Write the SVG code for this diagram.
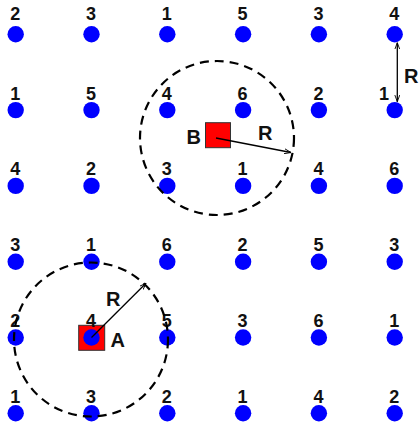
<svg xmlns="http://www.w3.org/2000/svg" width="419" height="428" viewBox="0 0 419 428">
<defs>
<style>
.dot{fill:#0000ff}
.num{font-family:"Liberation Sans",Arial,sans-serif;font-weight:bold;font-size:18px;fill:#111;text-anchor:middle}
.lbl{font-family:"Liberation Sans",Arial,sans-serif;font-weight:bold;font-size:20px;fill:#111}
.sq{fill:#ff0000;stroke:#333;stroke-width:1}
.rng{fill:none;stroke:#000;stroke-width:2.2;stroke-dasharray:9,6}
.arr{stroke:#000;stroke-width:1.3;fill:none}
</style>
<marker id="ah" viewBox="0 0 10 8" refX="9.5" refY="4" markerWidth="7" markerHeight="6" markerUnits="userSpaceOnUse" orient="auto-start-reverse">
<path d="M0,0.5 L9.5,4 L0,7.5" fill="none" stroke="#000" stroke-width="1.3"/>
</marker>
</defs>
<g id="squareA"><rect class="sq" x="78.7" y="325.3" width="26" height="25"/></g>
<g id="dots">
<g id="r0">
<circle class="dot" cx="15.7" cy="34.3" r="8.2"/><circle class="dot" cx="91.5" cy="34.3" r="8.2"/><circle class="dot" cx="167.3" cy="34.3" r="8.2"/><circle class="dot" cx="243.1" cy="34.3" r="8.2"/><circle class="dot" cx="318.9" cy="34.3" r="8.2"/><circle class="dot" cx="394.7" cy="34.3" r="8.2"/>
</g>
<g id="r1">
<circle class="dot" cx="15.7" cy="110.1" r="8.2"/><circle class="dot" cx="91.5" cy="110.1" r="8.2"/><circle class="dot" cx="167.3" cy="110.1" r="8.2"/><circle class="dot" cx="243.1" cy="110.1" r="8.2"/><circle class="dot" cx="318.9" cy="110.1" r="8.2"/><circle class="dot" cx="394.7" cy="110.1" r="8.2"/>
</g>
<g id="r2">
<circle class="dot" cx="15.7" cy="185.9" r="8.2"/><circle class="dot" cx="91.5" cy="185.9" r="8.2"/><circle class="dot" cx="167.3" cy="185.9" r="8.2"/><circle class="dot" cx="243.1" cy="185.9" r="8.2"/><circle class="dot" cx="318.9" cy="185.9" r="8.2"/><circle class="dot" cx="394.7" cy="185.9" r="8.2"/>
</g>
<g id="r3">
<circle class="dot" cx="15.7" cy="261.7" r="8.2"/><circle class="dot" cx="91.5" cy="261.7" r="8.2"/><circle class="dot" cx="167.3" cy="261.7" r="8.2"/><circle class="dot" cx="243.1" cy="261.7" r="8.2"/><circle class="dot" cx="318.9" cy="261.7" r="8.2"/><circle class="dot" cx="394.7" cy="261.7" r="8.2"/>
</g>
<g id="r4">
<circle class="dot" cx="15.7" cy="337.5" r="8.2"/><circle class="dot" cx="91.5" cy="337.5" r="8.2"/><circle class="dot" cx="167.3" cy="337.5" r="8.2"/><circle class="dot" cx="243.1" cy="337.5" r="8.2"/><circle class="dot" cx="318.9" cy="337.5" r="8.2"/><circle class="dot" cx="394.7" cy="337.5" r="8.2"/>
</g>
<g id="r5">
<circle class="dot" cx="15.7" cy="413.3" r="8.2"/><circle class="dot" cx="91.5" cy="413.3" r="8.2"/><circle class="dot" cx="167.3" cy="413.3" r="8.2"/><circle class="dot" cx="243.1" cy="413.3" r="8.2"/><circle class="dot" cx="318.9" cy="413.3" r="8.2"/><circle class="dot" cx="394.7" cy="413.3" r="8.2"/>
</g>
</g>
<g id="numbers">
<text class="num" x="15.2" y="19.5">2</text><text class="num" x="91" y="19.5">3</text><text class="num" x="166.8" y="19.5">1</text><text class="num" x="242.6" y="19.5">5</text><text class="num" x="318.4" y="19.5">3</text><text class="num" x="394.2" y="19.5">4</text>
<text class="num" x="15.2" y="99.6">1</text><text class="num" x="91" y="99.6">5</text><text class="num" x="166.8" y="99.6">4</text><text class="num" x="242.6" y="99.6">6</text><text class="num" x="318.4" y="99.6">2</text><text class="num" x="384" y="99.6">1</text>
<text class="num" x="15.2" y="175.4">4</text><text class="num" x="91" y="175.4">2</text><text class="num" x="166.8" y="175.4">3</text><text class="num" x="242.6" y="175.4">1</text><text class="num" x="318.4" y="175.4">4</text><text class="num" x="394.2" y="175.4">6</text>
<text class="num" x="15.2" y="251.2">3</text><text class="num" x="91" y="251.2">1</text><text class="num" x="166.8" y="251.2">6</text><text class="num" x="242.6" y="251.2">2</text><text class="num" x="318.4" y="251.2">5</text><text class="num" x="394.2" y="251.2">3</text>
<text class="num" x="15.2" y="327">2</text><text class="num" x="91" y="327">4</text><text class="num" x="166.8" y="327">5</text><text class="num" x="242.6" y="327">3</text><text class="num" x="318.4" y="327">6</text><text class="num" x="394.2" y="327">1</text>
<text class="num" x="15.2" y="402.8">1</text><text class="num" x="91" y="402.8">3</text><text class="num" x="166.8" y="402.8">2</text><text class="num" x="242.6" y="402.8">1</text><text class="num" x="318.4" y="402.8">4</text><text class="num" x="394.2" y="402.8">2</text>
</g>
<g id="squareB"><rect class="sq" x="205.5" y="122.7" width="25" height="25"/></g>
<g id="rangeA"><circle class="rng" cx="91" cy="339.5" r="77"/></g>
<g id="rangeB"><circle class="rng" cx="217" cy="138" r="77"/></g>
<g id="connectors">
<line class="arr" x1="91.5" y1="337.5" x2="146" y2="283.3" marker-end="url(#ah)"/>
<line class="arr" x1="216" y1="138" x2="291" y2="152.5" marker-end="url(#ah)"/>
<line class="arr" x1="397.3" y1="42.7" x2="397.3" y2="101.7" marker-start="url(#ah)" marker-end="url(#ah)"/>
</g>
<g id="labels">
<text class="lbl" x="186.5" y="143.5">B</text>
<text class="lbl" x="258" y="139.5">R</text>
<text class="lbl" x="106" y="305.5">R</text>
<text class="lbl" x="110.5" y="346.5">A</text>
<text class="lbl" x="404" y="82.7">R</text>
</g>
</svg>
